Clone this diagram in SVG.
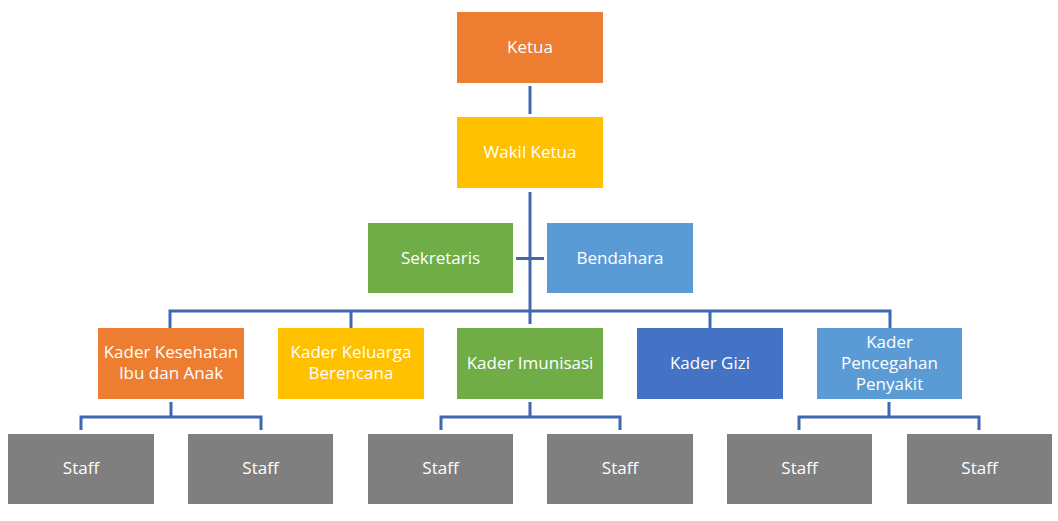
<svg xmlns="http://www.w3.org/2000/svg" width="1058" height="521" viewBox="0 0 1058 521">
<style>
text{font-family:"Open Sans","Noto Sans","Liberation Sans",sans-serif;font-size:17px;fill:#fff;text-anchor:middle;dominant-baseline:central}
.c{fill:none;stroke:#4068B2;stroke-width:3}
.or{fill:#ED7D31}.ye{fill:#FFC000}.gr{fill:#70AD47}.lb{fill:#5B9BD5}.db{fill:#4472C4}.gy{fill:#7F7F7F}
</style>
<rect width="1058" height="521" fill="#fff"/>
<g id="connectors">
<path class="c" d="M530 86V114M530 192V324M516 258.5H544M170 328V311H890V328M351 311V328M710 311V328M171 402V417H81V430M171 417H261V430M530 402V417H441V430M530 417H620V430M889 402V417H799V430M889 417H979V430"/>
</g>
<g id="ketua"><rect class="or" x="457" y="12" width="146" height="71"/><text x="530" y="46">Ketua</text></g>
<g id="wakil"><rect class="ye" x="457" y="117" width="146" height="71"/><text x="530" y="151">Wakil Ketua</text></g>
<g id="sekretaris"><rect class="gr" x="368" y="223" width="145" height="70"/><text x="440.5" y="257">Sekretaris</text></g>
<g id="bendahara"><rect class="lb" x="547" y="223" width="146" height="70"/><text x="620" y="257">Bendahara</text></g>
<g id="kia"><rect class="or" x="98" y="328" width="146" height="71"/><text x="171" y="351">Kader Kesehatan</text><text x="171" y="372">Ibu dan Anak</text></g>
<g id="kb"><rect class="ye" x="278" y="328" width="146" height="71"/><text x="351" y="351">Kader Keluarga</text><text x="351" y="372">Berencana</text></g>
<g id="imunisasi"><rect class="gr" x="457" y="328" width="146" height="71"/><text x="530" y="362">Kader Imunisasi</text></g>
<g id="gizi"><rect class="db" x="637" y="328" width="146" height="71"/><text x="710" y="362">Kader Gizi</text></g>
<g id="pencegahan"><rect class="lb" x="817" y="328" width="145" height="71"/><text x="889.5" y="341">Kader</text><text x="889.5" y="362">Pencegahan</text><text x="889.5" y="383">Penyakit</text></g>
<g id="staff1"><rect class="gy" x="8" y="434" width="146" height="70"/><text x="81" y="467">Staff</text></g>
<g id="staff2"><rect class="gy" x="188" y="434" width="145" height="70"/><text x="260.5" y="467">Staff</text></g>
<g id="staff3"><rect class="gy" x="368" y="434" width="145" height="70"/><text x="440.5" y="467">Staff</text></g>
<g id="staff4"><rect class="gy" x="547" y="434" width="146" height="70"/><text x="620" y="467">Staff</text></g>
<g id="staff5"><rect class="gy" x="727" y="434" width="145" height="70"/><text x="799.5" y="467">Staff</text></g>
<g id="staff6"><rect class="gy" x="907" y="434" width="145" height="70"/><text x="979.5" y="467">Staff</text></g>
</svg>
